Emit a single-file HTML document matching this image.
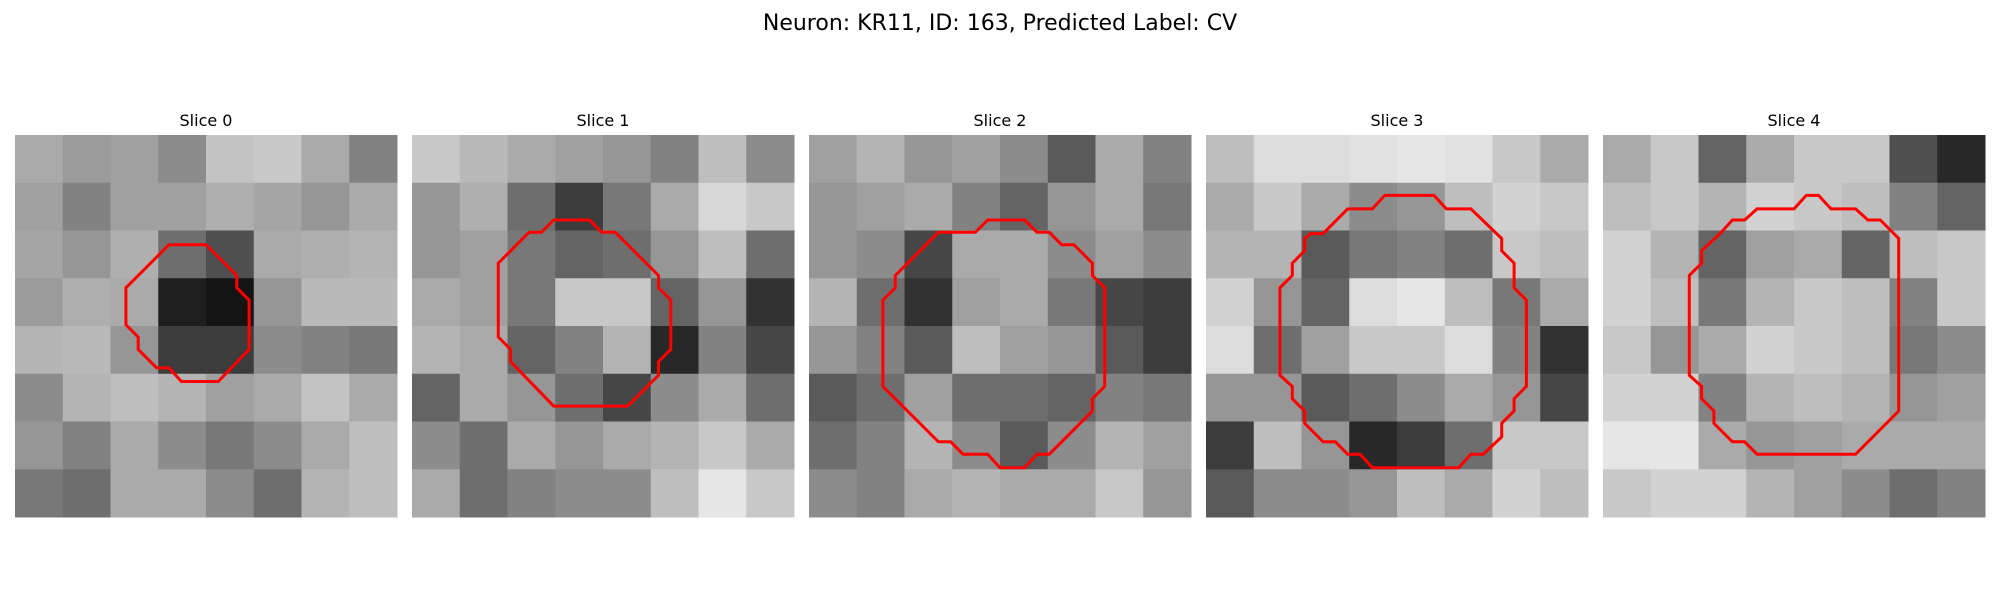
<!DOCTYPE html>
<html><head><meta charset="utf-8"><style>
html,body{margin:0;padding:0;background:#fff;}
svg{display:block;font-family:"Liberation Sans","DejaVu Sans",sans-serif;}
</style></head>
<body>
<svg id="fig" width="2000" height="600" viewBox="0 0 2000 600">
<text x="1000" y="30" text-anchor="middle" font-size="22" fill="#000" font-family="DejaVu Sans, Liberation Sans, sans-serif">Neuron: KR11, ID: 163, Predicted Label: CV</text>
</svg>
<script>
// Data
const sliceTitles = ["Slice 0","Slice 1","Slice 2","Slice 3","Slice 4"];
// coarse 8x8 intensity grids (0=black, 255=white)
const intensity0 = [
[170,155,160,140,195,200,170,130],[160,130,160,160,175,165,150,170],[165,150,175,110,80,170,175,180],[155,175,170,30,20,150,185,185],
[180,185,150,60,60,140,130,120],[140,180,190,180,160,170,195,170],[150,130,170,140,120,140,170,190],[120,110,170,170,140,110,180,190]];
const intensity1 = [
[200,185,170,160,150,130,190,140],[150,175,110,60,120,170,215,200],[150,160,120,100,110,150,190,110],[170,160,120,200,200,100,150,50],
[180,170,100,130,180,40,130,70],[100,170,150,110,70,140,170,110],[140,110,170,150,170,180,200,170],[170,110,130,140,140,190,230,200]];
const intensity2 = [
[160,180,150,160,140,90,170,130],[150,160,170,130,100,150,170,120],[150,140,70,170,170,140,160,140],[180,110,50,160,170,120,70,60],
[150,130,90,190,160,150,90,60],[90,110,160,110,110,100,130,120],[110,130,180,140,90,140,180,160],[140,130,170,180,170,170,200,150]];
const intensity3 = [
[190,220,220,225,230,225,200,170],[170,200,170,140,150,190,210,200],[180,180,90,120,130,110,200,190],[210,150,100,220,230,190,120,170],
[220,110,160,200,200,220,130,50],[150,150,90,110,140,170,150,70],[60,190,150,40,60,110,200,200],[90,140,140,150,190,170,210,190]];
const intensity4 = [
[170,200,100,170,200,200,80,40],[190,200,180,210,200,190,130,100],[210,180,100,160,170,100,190,200],[210,190,120,180,200,190,130,200],
[200,150,170,210,200,190,120,140],[210,210,130,180,190,180,150,160],[230,230,170,150,160,170,170,170],[200,210,210,180,160,140,110,130]];
// contour vertices in image-pixel coordinates (31x31 image)
const contour0 = [[12.5,8.9],[15.5,8.9],[18,11.4],[18,12.4],[19,13.4],[19,17.4],[16.5,20],[13.5,20],[12.5,18.9],[11.5,18.9],[10,17.4],[10,16.4],[9,15.4],[9,12.4]];
const contour1 = [[11.5,6.9],[14.4,6.9],[15.4,7.9],[16.5,7.9],[20,11.4],[20,12.4],[21,13.4],[21,17.4],[20,18.4],[20,19.5],[17.5,22],[11.5,22],[8,18.4],[8,17.4],[7,16.4],[7,10.4],[9.5,7.9],[10.5,7.9]];
const contour2 = [[14.5,6.9],[17.5,6.9],[18.5,7.9],[19.5,7.9],[20.5,8.9],[21.5,8.9],[23,10.4],[23,11.4],[24,12.4],[24,20.4],[23,21.4],[23,22.4],[19.5,25.9],[18.5,25.9],[17.5,27],[15.5,27],[14.5,25.9],[12.5,25.9],[11.5,24.9],[10.5,24.9],[6,20.4],[6,13.4],[7,12.4],[7,11.4],[10.5,7.9],[13.5,7.9]];
const contour3 = [[14.5,4.9],[18.5,4.9],[19.5,6],[21.5,6],[24,8.4],[24,9.4],[25,10.4],[25,12.4],[26,13.4],[26,20.4],[25,21.4],[25,22.4],[24,23.4],[24,24.5],[22.5,25.9],[21.5,25.9],[20.5,27],[13.5,27],[12.5,25.9],[11.5,25.9],[10.5,24.9],[9.5,24.9],[8,23.4],[8,22.4],[7,21.4],[7,20.4],[6,19.5],[6,12.4],[7,11.4],[7,10.4],[8,9.4],[8,8.4],[8.5,8],[9.5,8],[11.5,6],[13.5,6]];
const contour4 = [[12.5,6],[15.5,6],[16.5,4.9],[17.5,4.9],[18.5,6],[20.5,6],[21.5,6.9],[22.5,6.9],[24,8.4],[24,22.4],[20.5,25.9],[12.5,25.9],[11.5,24.9],[10.5,24.9],[9,23.4],[9,22.4],[8,21.4],[8,20.4],[7,19.5],[7,11.4],[8,10.4],[8,9.4],[9.5,8],[10.5,6.9],[11.5,6.9]];
const grids = [intensity0,intensity1,intensity2,intensity3,intensity4];
const contours = [contour0,contour1,contour2,contour3,contour4];

const NS = "http://www.w3.org/2000/svg";
const svg = document.getElementById('fig');
const panelX0 = 15, panelStride = 397, panelY0 = 135, panelSize = 382, imgPx = 31;
function px(i){ return panelX0 + i*panelStride; }
for (let p=0;p<grids.length;p++){
  const g = document.createElementNS(NS,'g');
  
  
  svg.appendChild(g);
  const x0 = px(p);
  const t = document.createElementNS(NS,'text');
  t.setAttribute('x', x0+panelSize/2); t.setAttribute('y', 126);
  t.setAttribute('text-anchor','middle'); t.setAttribute('font-size','16');
  t.setAttribute('font-family','DejaVu Sans, Liberation Sans, sans-serif');
  t.textContent = sliceTitles[p];
  
  
  g.appendChild(t);
  const grid = grids[p], n = grid.length, cs = panelSize/n;
  for (let r=0;r<n;r++) for (let c=0;c<grid[r].length;c++){
    const v = grid[r][c];
    const rc = document.createElementNS(NS,'rect');
    rc.setAttribute('x', (x0+c*cs).toFixed(2)); rc.setAttribute('y', (panelY0+r*cs).toFixed(2));
    rc.setAttribute('width', (cs+0.5).toFixed(2)); rc.setAttribute('height', (cs+0.5).toFixed(2));
    rc.setAttribute('fill', `rgb(${v},${v},${v})`);
    
    
    g.appendChild(rc);
  }
  const k = panelSize/imgPx;
  const pts = contours[p].map(q => (x0+q[0]*k).toFixed(1)+','+(panelY0+q[1]*k).toFixed(1)).join(' ');
  const pl = document.createElementNS(NS,'polygon');
  pl.setAttribute('points', pts);
  pl.setAttribute('fill','none'); pl.setAttribute('stroke','#ff0000'); pl.setAttribute('stroke-width','3');
  
  
  g.appendChild(pl);
}
</script>
</body></html>
